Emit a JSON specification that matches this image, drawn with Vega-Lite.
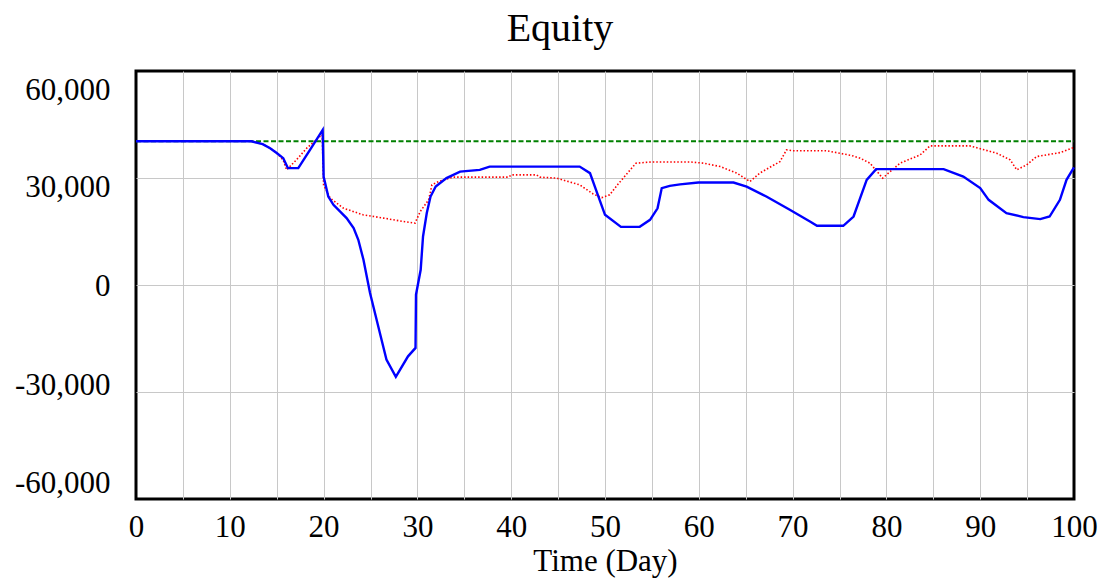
{
  "$schema": "https://vega.github.io/schema/vega-lite/v6.json",
  "width": 938,
  "height": 428,
  "autosize": {"type": "none"},
  "padding": {"left": 136, "top": 71, "right": 33, "bottom": 84},
  "background": "white",
  "title": {"text": "Equity", "font": "Liberation Serif", "fontSize": 40, "fontWeight": "normal", "color": "black", "baseline": "alphabetic", "dx": -45, "offset": 27, "dy": 37},
  "config": {
    "view": {"stroke": "black", "strokeWidth": 3},
    "axis": {"labelFont": "Liberation Serif", "labelFontSize": 31, "labelColor": "black", "titleFont": "Liberation Serif", "titleFontSize": 31, "titleFontWeight": "normal", "titleColor": "black", "gridColor": "#c8c8c8", "gridWidth": 1, "domain": false, "ticks": false, "labelOverlap": false, "labelFlush": false}
  },
  "datasets": {
    "blue": [
      {"t": 0, "v": 40300}, {"t": 12.3, "v": 40300}, {"t": 13.5, "v": 39500}, {"t": 14.3, "v": 38360},
      {"t": 15.0, "v": 37000}, {"t": 15.7, "v": 35560}, {"t": 16.2, "v": 32760}, {"t": 17.3, "v": 32760},
      {"t": 18.55, "v": 37900}, {"t": 19.9, "v": 43480}, {"t": 20.0, "v": 30400}, {"t": 20.5, "v": 24800},
      {"t": 21.05, "v": 22480}, {"t": 22.45, "v": 18760}, {"t": 23.2, "v": 15960}, {"t": 23.7, "v": 12680},
      {"t": 24.25, "v": 7080}, {"t": 24.95, "v": -2240}, {"t": 26.0, "v": -13440}, {"t": 26.7, "v": -20900},
      {"t": 27.7, "v": -25760}, {"t": 29.0, "v": -20000}, {"t": 29.8, "v": -17640}, {"t": 29.85, "v": -2720},
      {"t": 30.35, "v": 4280}, {"t": 30.6, "v": 13600}, {"t": 31.0, "v": 20160}, {"t": 31.4, "v": 24800},
      {"t": 31.95, "v": 27600}, {"t": 33.1, "v": 29960}, {"t": 34.55, "v": 31800}, {"t": 36.65, "v": 32280},
      {"t": 37.7, "v": 33200}, {"t": 47.3, "v": 33200}, {"t": 48.4, "v": 31360}, {"t": 49.3, "v": 24800},
      {"t": 50.0, "v": 19680}, {"t": 51.7, "v": 16300}, {"t": 53.7, "v": 16300}, {"t": 54.8, "v": 18280},
      {"t": 55.6, "v": 21500}, {"t": 56.05, "v": 27160}, {"t": 56.9, "v": 27800}, {"t": 58.0, "v": 28200},
      {"t": 59.95, "v": 28730}, {"t": 63.7, "v": 28730}, {"t": 65.1, "v": 27600}, {"t": 67.2, "v": 24800},
      {"t": 69.7, "v": 21080}, {"t": 71.85, "v": 17800}, {"t": 72.6, "v": 16600}, {"t": 75.4, "v": 16600},
      {"t": 76.5, "v": 19200}, {"t": 77.2, "v": 24360}, {"t": 77.9, "v": 29480}, {"t": 78.9, "v": 32480},
      {"t": 86.1, "v": 32480}, {"t": 88.2, "v": 30400}, {"t": 90.0, "v": 27160}, {"t": 90.9, "v": 23880},
      {"t": 92.8, "v": 20160}, {"t": 94.6, "v": 19040}, {"t": 96.4, "v": 18480}, {"t": 97.4, "v": 19200},
      {"t": 98.5, "v": 23880}, {"t": 99.2, "v": 29480}, {"t": 100, "v": 33000}
    ],
    "red": [
      {"t": 0, "v": 40300}, {"t": 12.3, "v": 40300}, {"t": 13.5, "v": 39500}, {"t": 14.3, "v": 38360},
      {"t": 15.0, "v": 37000}, {"t": 15.7, "v": 35000}, {"t": 16.05, "v": 32280}, {"t": 17.1, "v": 35080},
      {"t": 18.2, "v": 38360}, {"t": 19.6, "v": 41600}, {"t": 19.85, "v": 42080}, {"t": 20.0, "v": 28000},
      {"t": 20.7, "v": 24360}, {"t": 22.1, "v": 21560}, {"t": 24.2, "v": 19680}, {"t": 26.4, "v": 18760},
      {"t": 28.5, "v": 17800}, {"t": 29.75, "v": 17360}, {"t": 30.3, "v": 20600}, {"t": 31.2, "v": 23880},
      {"t": 31.55, "v": 28080}, {"t": 32.25, "v": 29000}, {"t": 33.8, "v": 30240}, {"t": 39.7, "v": 30240},
      {"t": 40.05, "v": 30880}, {"t": 42.7, "v": 30880}, {"t": 43.05, "v": 30240}, {"t": 44.85, "v": 29960},
      {"t": 47.3, "v": 28080}, {"t": 48.75, "v": 25500}, {"t": 49.65, "v": 24500}, {"t": 50.5, "v": 25280},
      {"t": 51.4, "v": 28300}, {"t": 53.3, "v": 34160}, {"t": 55.0, "v": 34500}, {"t": 59.1, "v": 34500},
      {"t": 60.5, "v": 34160}, {"t": 62.3, "v": 33200}, {"t": 64.05, "v": 31360}, {"t": 65.45, "v": 29000},
      {"t": 66.5, "v": 31360}, {"t": 68.65, "v": 34600}, {"t": 69.35, "v": 37880}, {"t": 70.05, "v": 37650},
      {"t": 73.6, "v": 37650}, {"t": 76.3, "v": 36300}, {"t": 77.2, "v": 35560}, {"t": 78.25, "v": 34160},
      {"t": 79.6, "v": 29960}, {"t": 81.45, "v": 34160}, {"t": 83.6, "v": 36480}, {"t": 84.65, "v": 39000},
      {"t": 88.9, "v": 39000}, {"t": 91.75, "v": 36960}, {"t": 93.2, "v": 35080}, {"t": 93.9, "v": 32280},
      {"t": 94.95, "v": 33680}, {"t": 96.0, "v": 36000}, {"t": 98.5, "v": 37120}, {"t": 100, "v": 38600}
    ],
    "green": [
      {"t": 0, "v": 40300}, {"t": 100, "v": 40300}
    ]
  },
  "encoding": {
    "x": {
      "field": "t", "type": "quantitative",
      "scale": {"domain": [0, 100], "nice": false, "zero": false},
      "axis": {
        "values": [0, 5, 10, 15, 20, 25, 30, 35, 40, 45, 50, 55, 60, 65, 70, 75, 80, 85, 90, 95, 100],
        "labelExpr": "datum.value % 10 === 0 ? datum.label : ''",
        "labelPadding": 13,
        "title": "Time (Day)",
        "titleBaseline": "alphabetic",
        "titleY": 71,
        "gridOpacity": {"condition": {"test": "datum.value == 0 || datum.value == 100", "value": 0}, "value": 1}
      }
    },
    "y": {
      "field": "v", "type": "quantitative",
      "scale": {"domain": [-60000, 60000], "nice": false, "zero": false},
      "axis": {
        "values": [-60000, -30000, 0, 30000, 60000],
        "labelExpr": "replace(format(datum.value, ',.0f'), '\u2212', '-')",
        "title": null,
        "labelPadding": 26,
        "labelOffset": {"condition": [
          {"test": "datum.value == 60000", "value": 19},
          {"test": "datum.value == 30000", "value": 9.6},
          {"test": "datum.value == -30000", "value": -7},
          {"test": "datum.value == -60000", "value": -15.7}
        ], "value": 1},
        "gridOpacity": {"condition": {"test": "datum.value == 60000 || datum.value == -60000", "value": 0}, "value": 1}
      }
    }
  },
  "layer": [
    {"data": {"name": "green"}, "mark": {"type": "line", "color": "#008000", "strokeWidth": 1.8, "strokeDash": [5, 2.5]}},
    {"data": {"name": "red"}, "mark": {"type": "line", "color": "#ff0000", "strokeWidth": 1.6, "strokeDash": [1.5, 2]}},
    {"data": {"name": "blue"}, "mark": {"type": "line", "color": "#0000ff", "strokeWidth": 2.4}}
  ]
}
